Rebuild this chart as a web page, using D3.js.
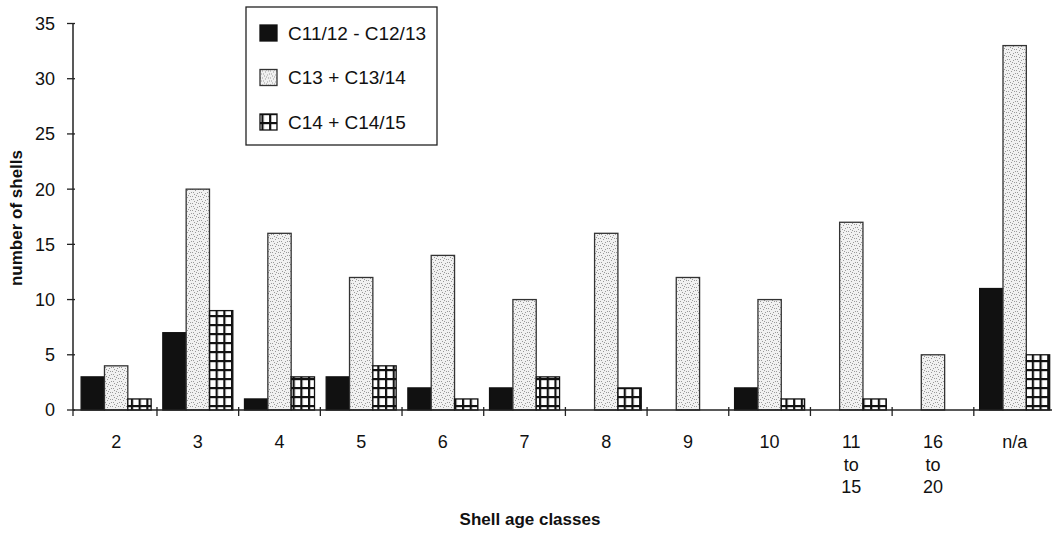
<!DOCTYPE html>
<html>
<head>
<meta charset="utf-8">
<script src="https://cdn.jsdelivr.net/npm/d3@7"></script>
<style>
  body { margin: 0; background: #fff; }
  text { font-family: "Liberation Sans", Arial, sans-serif; fill: #111; }
</style>
</head>
<body>
<div id="chart"></div>
<script>
const categories = ['2', '3', '4', '5', '6', '7', '8', '9', '10', '11 to 15', '16 to 20', 'n/a'];
const seriesNames = ['C11/12 - C12/13', 'C13 + C13/14', 'C14 + C14/15'];
const c11 = [3, 7, 1, 3, 2, 2, 0, 0, 2, 0, 0, 11];
const c13 = [4, 20, 16, 12, 14, 10, 16, 12, 10, 17, 5, 33];
const c14 = [1, 9, 3, 4, 1, 3, 2, 0, 1, 1, 0, 5];
const yTicks = [0, 5, 10, 15, 20, 25, 30, 35];

const width = 1052, height = 534;
const seriesValues = [c11, c13, c14];

const svg = d3.select('#chart')
  .append('svg')
  .attr('width', width)
  .attr('height', height);

// fill patterns, imitating the printed hatches
const defs = svg.append('defs');
const dots = defs.append('pattern')
  .attr('id', 'dots')
  .attr('patternUnits', 'userSpaceOnUse')
  .attr('width', 8).attr('height', 7);
dots.append('rect').attr('width', 8).attr('height', 7).attr('fill', '#f1f1f1');
[[0, 0], [3, 1], [6, 0], [1, 3], [5, 4], [2, 5], [7, 3], [4, 6]].forEach(p => {
  dots.append('rect')
    .attr('x', p[0]).attr('y', p[1])
    .attr('width', 1).attr('height', 1)
    .attr('fill', '#9a9a9a');
});

const grid = defs.append('pattern')
  .attr('id', 'grid')
  .attr('patternUnits', 'userSpaceOnUse')
  .attr('width', 7.7).attr('height', 9);
grid.append('rect').attr('width', 7.7).attr('height', 9).attr('fill', '#fff');
grid.append('rect').attr('x', 0).attr('y', 0).attr('width', 2.2).attr('height', 9).attr('fill', '#111');
grid.append('rect').attr('x', 0).attr('y', 0).attr('width', 7.7).attr('height', 2.2).attr('fill', '#111');

const fills = ['#111', 'url(#dots)', 'url(#grid)'];
const strokes = ['#111', '#333', '#111'];

const x = d3.scaleBand()
  .domain(categories)
  .range([75.3, 1055.5])
  .paddingInner(0.143)
  .paddingOuter(0.0715);

const xs = d3.scaleBand()
  .domain(seriesNames)
  .range([0, x.bandwidth()]);

const y = d3.scaleLinear()
  .domain([0, 35])
  .range([410, 23.5]);

const gap = (x.step() - x.bandwidth()) / 2;

// bars
seriesNames.forEach((name, si) => {
  svg.append('g')
    .selectAll('rect')
    .data(categories.map((c, i) => ({ c: c, v: seriesValues[si][i] })).filter(d => d.v > 0))
    .enter()
    .append('rect')
    .attr('x', d => x(d.c) + xs(name))
    .attr('y', d => y(d.v))
    .attr('width', xs.bandwidth())
    .attr('height', d => y(0) - y(d.v))
    .attr('fill', fills[si])
    .attr('stroke', strokes[si])
    .attr('stroke-width', 1.3);
});

// y axis
const yAxis = svg.append('g').attr('transform', 'translate(73,0)');
yAxis.append('line')
  .attr('x1', 0).attr('x2', 0)
  .attr('y1', y(35)).attr('y2', y(0))
  .attr('stroke', '#222').attr('stroke-width', 1.5);
yAxis.selectAll('.tick')
  .data(yTicks)
  .enter()
  .append('line')
  .attr('x1', -6).attr('x2', 2)
  .attr('y1', d => y(d)).attr('y2', d => y(d))
  .attr('stroke', '#222').attr('stroke-width', 1.3);
yAxis.selectAll('.label')
  .data(yTicks)
  .enter()
  .append('text')
  .attr('x', -18)
  .attr('y', d => y(d))
  .attr('dy', '0.36em')
  .attr('text-anchor', 'end')
  .style('font-size', '18px')
  .text(d => d);

// x axis
const xAxis = svg.append('g').attr('transform', 'translate(0,' + y(0) + ')');
xAxis.append('line')
  .attr('x1', 73).attr('x2', width)
  .attr('stroke', '#222').attr('stroke-width', 1.5);
xAxis.selectAll('.tick')
  .data(categories.slice(1))
  .enter()
  .append('line')
  .attr('x1', d => x(d) - gap).attr('x2', d => x(d) - gap)
  .attr('y1', -3).attr('y2', 6)
  .attr('stroke', '#222').attr('stroke-width', 1.3);
xAxis.append('line')
  .attr('x1', 73).attr('x2', 73)
  .attr('y1', 0).attr('y2', 6)
  .attr('stroke', '#222').attr('stroke-width', 1.3);

// category labels, ranges broken over three lines
xAxis.selectAll('.label')
  .data(categories)
  .enter()
  .append('text')
  .attr('text-anchor', 'middle')
  .style('font-size', '18px')
  .each(function (d) {
    const lines = d.split(' ');
    d3.select(this).selectAll('tspan')
      .data(lines)
      .enter()
      .append('tspan')
      .attr('x', x(d) + x.bandwidth() / 2)
      .attr('y', (l, i) => 38 + i * 22.5)
      .text(l => l);
  });

// axis titles
svg.append('text')
  .attr('transform', 'translate(22,218) rotate(-90)')
  .attr('text-anchor', 'middle')
  .style('font-size', '17px')
  .style('font-weight', 'bold')
  .text('number of shells');

svg.append('text')
  .attr('x', 530)
  .attr('y', 525)
  .attr('text-anchor', 'middle')
  .style('font-size', '17px')
  .style('font-weight', 'bold')
  .text('Shell age classes');

// legend
const legend = svg.append('g').attr('transform', 'translate(246,7)');
legend.append('rect')
  .attr('width', 191).attr('height', 138)
  .attr('fill', '#fff')
  .attr('stroke', '#222').attr('stroke-width', 1.3);
seriesNames.forEach((name, i) => {
  const row = legend.append('g').attr('transform', 'translate(0,' + (26 + i * 44.5) + ')');
  row.append('rect')
    .attr('x', 14).attr('y', -8)
    .attr('width', 17).attr('height', 16)
    .attr('fill', fills[i])
    .attr('stroke', strokes[i]).attr('stroke-width', 1.3);
  row.append('text')
    .attr('x', 42)
    .attr('dy', '0.36em')
    .style('font-size', '19px')
    .text(name);
});
</script>
</body>
</html>
